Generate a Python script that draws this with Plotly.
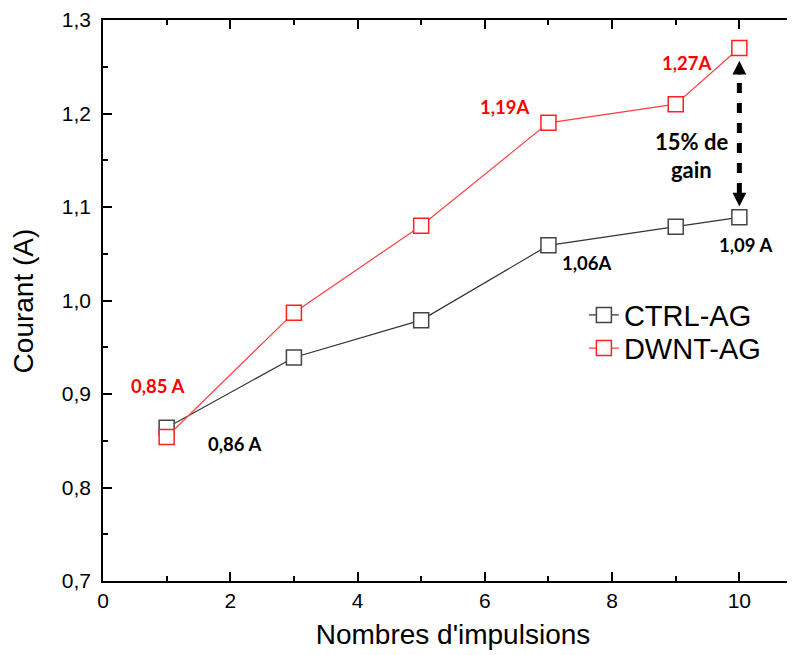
import plotly.graph_objects as go

impulsions = [1, 3, 5, 7, 9, 10]
ctrl_ag = [0.864, 0.939, 0.979, 1.059, 1.079, 1.089]
dwnt_ag = [0.854, 0.987, 1.080, 1.190, 1.210, 1.270]

x_ticks = [0, 2, 4, 6, 8, 10]
y_ticks = [0.7, 0.8, 0.9, 1.0, 1.1, 1.2, 1.3]

FONT = "Liberation Sans, Arial, sans-serif"
LABEL_FONT = "Lato, Carlito, sans-serif"

fig = go.Figure()
fig.add_trace(go.Scatter(
    x=impulsions, y=ctrl_ag, name="CTRL-AG", mode="lines+markers", legend="legend",
    line=dict(color="#333333", width=1.2),
    marker=dict(symbol="square", size=15, color="white",
                line=dict(color="#444444", width=1.5)),
))
fig.add_trace(go.Scatter(
    x=impulsions, y=dwnt_ag, name="DWNT-AG", mode="lines+markers", legend="legend2",
    line=dict(color="#ff4040", width=1.2),
    marker=dict(symbol="square", size=15, color="white",
                line=dict(color="#ff2020", width=1.5)),
))

# value labels
labels = [
    (0.853, 0.9085, "0,85 A", "red"),
    (2.07, 0.8467, "0,86 A", "black"),
    (7.60, 1.0397, "1,06A", "black"),
    (10.09, 1.0593, "1,09 A", "black"),
    (6.32, 1.207, "1,19A", "red"),
    (9.17, 1.254, "1,27A", "red"),
]
for x, y, t, c in labels:
    fig.add_annotation(x=x, y=y, text=t, showarrow=False,
                       font=dict(family=LABEL_FONT, size=18.5, color=c, weight="bold"))

fig.add_annotation(x=9.25, y=1.170, text="15% de", showarrow=False,
                   font=dict(family=LABEL_FONT, size=22, color="black", weight="bold"))
fig.add_annotation(x=9.25, y=1.140, text="gain", showarrow=False,
                   font=dict(family=LABEL_FONT, size=22, color="black", weight="bold"))

# y axis title
fig.add_annotation(xref="paper", yref="paper", x=-0.113, y=0.5, xanchor="center", yanchor="middle",
                   text="Courant (A)", textangle=-90, showarrow=False,
                   font=dict(family=FONT, size=28, color="black"))

# dashed double arrow between the two series at x=10
top_v = dwnt_ag[-1]
bot_v = ctrl_ag[-1]
fig.add_shape(type="line", x0=10, x1=10, y0=bot_v + 0.026, y1=top_v - 0.022,
              line=dict(color="black", width=5, dash="10px,10px"))
fig.add_annotation(x=10, y=top_v - 0.0135, ax=10, ay=top_v - 0.03,
                   axref="x", ayref="y", text="", showarrow=True,
                   arrowhead=2, arrowwidth=2.5, arrowsize=1.1, arrowcolor="black")
fig.add_annotation(x=10, y=bot_v + 0.0115, ax=10, ay=bot_v + 0.03,
                   axref="x", ayref="y", text="", showarrow=True,
                   arrowhead=2, arrowwidth=2.5, arrowsize=1.1, arrowcolor="black")

axis_common = dict(
    showgrid=False, zeroline=False, showline=True, linecolor="black", linewidth=1.5,
    ticks="inside", ticklen=9, tickwidth=1.5, tickcolor="black", automargin=False,
    tickfont=dict(family=FONT, size=21, color="black"),
)

legend_common = dict(xanchor="left", yanchor="middle", bgcolor="rgba(0,0,0,0)",
                     font=dict(family=FONT, size=29, color="black"), itemwidth=30)

fig.update_layout(
    width=795, height=655,
    margin=dict(l=95, r=0, t=12, b=82),
    paper_bgcolor="white", plot_bgcolor="white",
    separators=", ",
    showlegend=True,
    legend=dict(x=0.687, y=0.474, **legend_common),
    legend2=dict(x=0.687, y=0.415, **legend_common),
    xaxis=dict(range=[0, 11.0], tickvals=x_ticks, mirror="ticks",
               minor=dict(ticks="inside", ticklen=5, dtick=1, tick0=0, tickcolor="black", tickwidth=1.5),
               title=dict(text="Nombres d'impulsions", font=dict(family=FONT, size=28, color="black"), standoff=13),
               **axis_common),
    yaxis=dict(range=[0.7, 1.3], tickvals=y_ticks, tickformat=".1f", mirror="ticks",
               ticklabelstandoff=6,
               minor=dict(ticks="inside", ticklen=5, dtick=0.05, tick0=0.7, tickcolor="black", tickwidth=1.5),
               **axis_common),
)

fig.write_html("out.html")
